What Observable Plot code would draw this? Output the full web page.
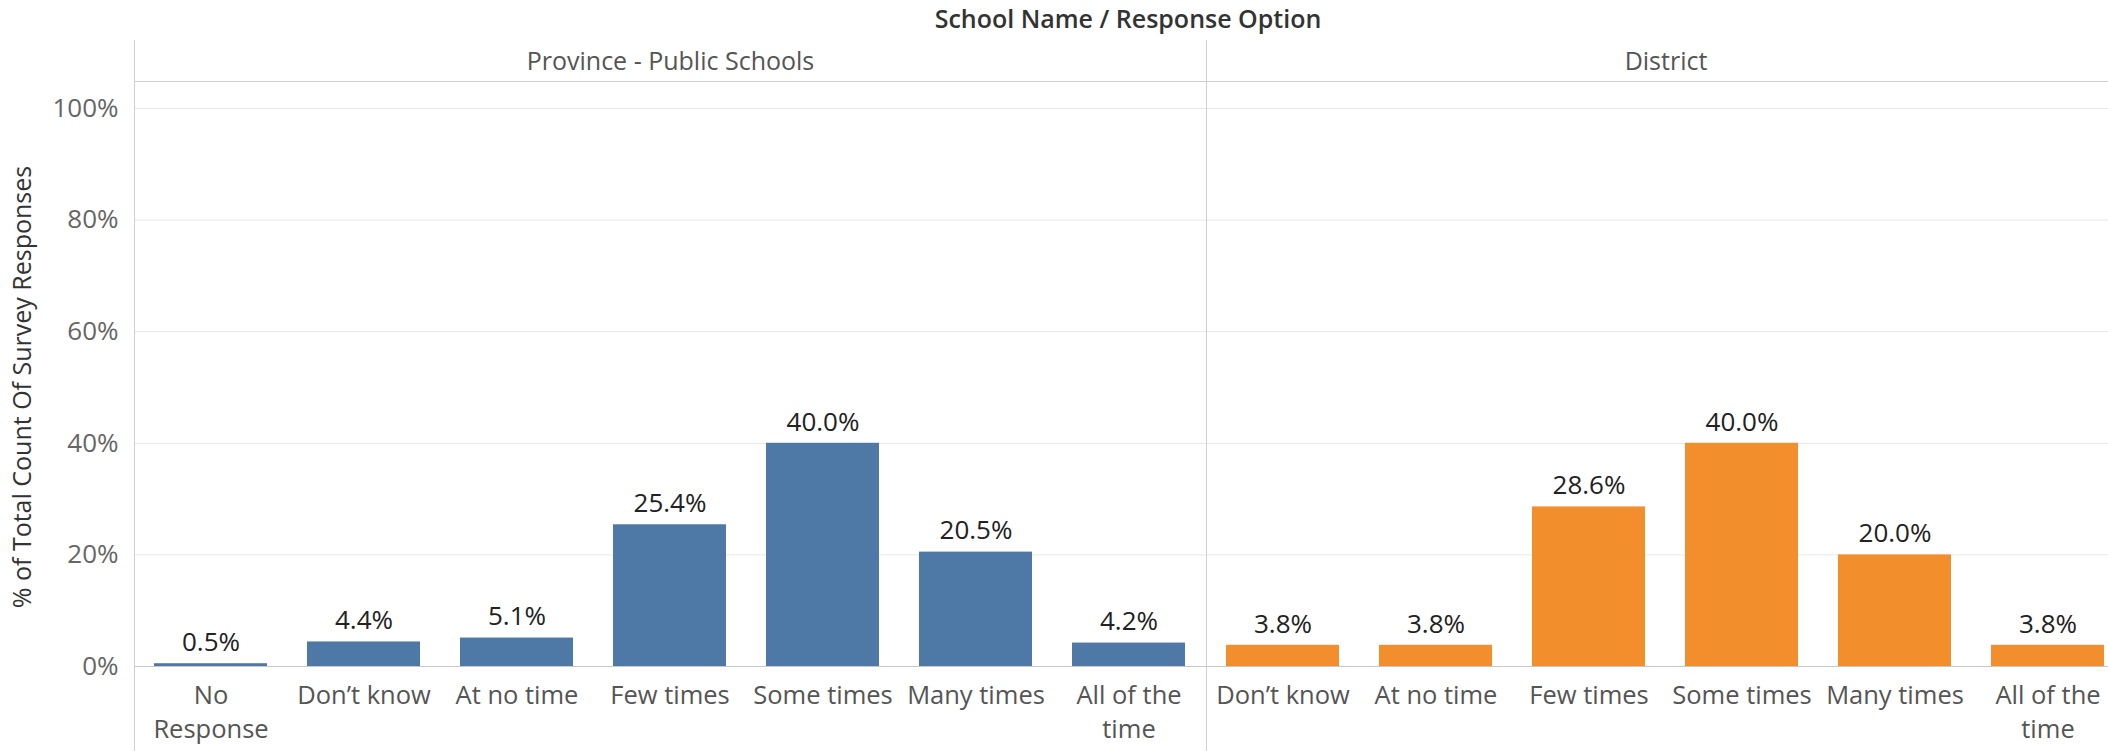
<!DOCTYPE html>
<html>
<head>
<meta charset="utf-8">
<script src="https://cdn.jsdelivr.net/npm/d3@7"></script>
<script src="https://cdn.jsdelivr.net/npm/@observablehq/plot@0.6"></script>
<style>
  html, body { margin: 0; padding: 0; background: #fff; }
  body { width: 2108px; height: 751px; overflow: hidden; position: relative; font-family: "Open Sans", sans-serif; }
  #title { position: absolute; top: 3px; left: 1128px; transform: translateX(-50%); white-space: nowrap;
           font-size: 25px; font-weight: 600; color: #333; line-height: 30px; z-index: 2; }
  #row { position: absolute; top: 0; left: 0; display: flex; width: 2200px; }
  #row svg { display: block; }
</style>
</head>
<body>
<div id="title">School Name / Response Option</div>
<div id="row"></div>
<script>
// ---- data ----
const chartTitle = "School Name / Response Option";
const yAxisTitle = "% of Total Count Of Survey Responses";
const schools = ["Province - Public Schools", "District"];
const provinceOptions = ["No Response", "Don’t know", "At no time", "Few times", "Some times", "Many times", "All of the time"];
const provinceTickLabels = ["No\nResponse", "Don’t know", "At no time", "Few times", "Some times", "Many times", "All of the\ntime"];
const provinceValues = [0.005, 0.044, 0.051, 0.254, 0.400, 0.205, 0.042];
const districtOptions = ["Don’t know", "At no time", "Few times", "Some times", "Many times", "All of the time"];
const districtTickLabels = ["Don’t know", "At no time", "Few times", "Some times", "Many times", "All of the\ntime"];
const districtValues = [0.038, 0.038, 0.286, 0.400, 0.200, 0.038];
const yTicks = [0, 0.2, 0.4, 0.6, 0.8, 1.0];
const colors = ["#4e79a7", "#f28e2b"];

// ---- layout ----
const H = 751, MT = 81, MB = 85, ML = 134;
const yMax = 1.0484;
const FONT = "Open Sans, sans-serif";

function lines(xLine, width) {
  return () => {
    const g = d3.create("svg:g").attr("stroke", "#cfcfcf").attr("shape-rendering", "crispEdges");
    g.append("line").attr("x1", xLine + 0.5).attr("x2", xLine + 0.5).attr("y1", 40).attr("y2", H);
    g.append("line").attr("x1", xLine).attr("x2", width).attr("y1", MT + 0.5).attr("y2", MT + 0.5);
    return g.node();
  };
}

function panel({name, options, tickLabels, values, color, width, marginLeft, withYAxis}) {
  const data = options.map((o, i) => ({option: o, value: values[i]}));
  const labelOf = new Map(options.map((o, i) => [o, tickLabels[i]]));
  const marks = [
    Plot.gridY(yTicks.filter(d => d > 0), {stroke: "#e8e8e8", strokeOpacity: 1}),
    Plot.ruleY([0], {stroke: "#c8c8c8"}),
    Plot.barY(data, {x: "option", y: "value", fill: color}),
    Plot.text(data, {x: "option", y: "value", text: d => d3.format(".1%")(d.value),
      dy: -21, lineAnchor: "middle", fontSize: 26, fill: "#222"}),
    Plot.text([name], {frameAnchor: "top", dy: -20, lineAnchor: "middle", fontSize: 25, fill: "#555"}),
    Plot.axisX({tickSize: 0, tickPadding: 13, fontSize: 25.5, color: "#555", lineHeight: 1.35,
      tickFormat: d => labelOf.get(d), label: null}),
    lines(marginLeft, width)
  ];
  if (withYAxis) {
    marks.push(Plot.axisY({ticks: yTicks, tickFormat: d3.format(".0%"), tickSize: 0, tickPadding: 16,
      fontSize: 26, color: "#666", label: null}));
    marks.push(Plot.text([yAxisTitle], {frameAnchor: "left", textAnchor: "middle", rotate: -90, dx: -112, dy: 13,
      fontSize: 25, fill: "#333"}));
  }
  return Plot.plot({
    width, height: H,
    marginLeft, marginRight: 0, marginTop: MT, marginBottom: MB,
    style: {fontFamily: FONT, background: "#fff", overflow: "visible"},
    x: {domain: options, paddingInner: 0.26, paddingOuter: 0.13, axis: null},
    y: {domain: [0, yMax], axis: null},
    marks
  });
}

const row = document.getElementById("row");
row.appendChild(panel({name: schools[0], options: provinceOptions, tickLabels: provinceTickLabels,
  values: provinceValues, color: colors[0], width: 1206, marginLeft: ML, withYAxis: true}));
row.appendChild(panel({name: schools[1], options: districtOptions, tickLabels: districtTickLabels,
  values: districtValues, color: colors[1], width: 919, marginLeft: 0, withYAxis: false}));
</script>
</body>
</html>
